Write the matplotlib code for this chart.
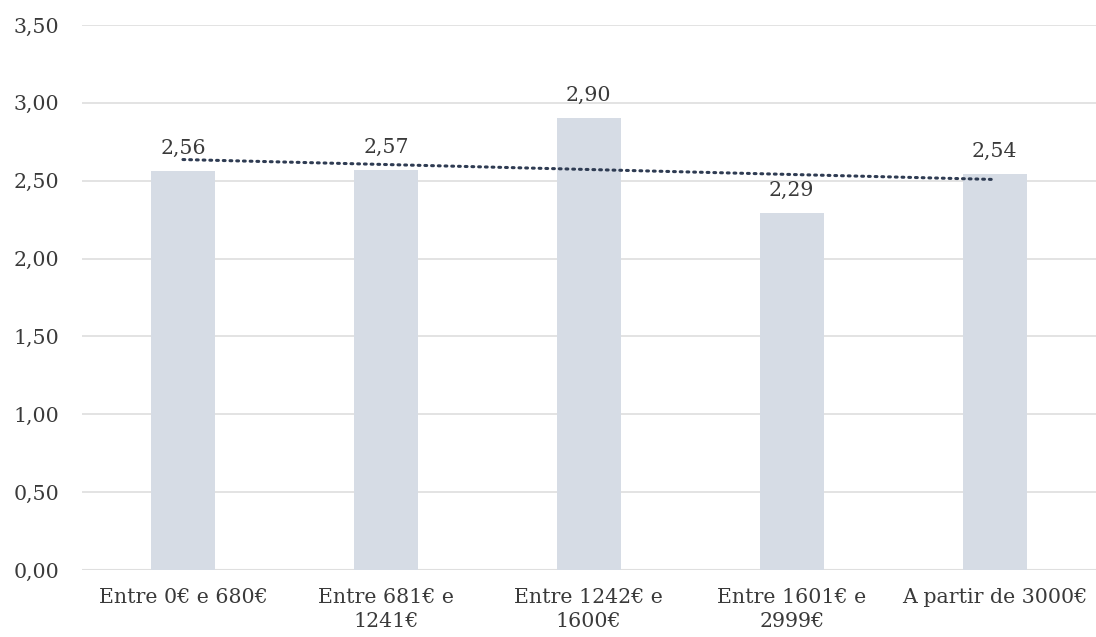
import numpy as np
import matplotlib
matplotlib.use('Agg')
import matplotlib.pyplot as plt

categorias = ['Entre 0€ e 680€', 'Entre 681€ e\n1241€', 'Entre 1242€ e\n1600€',
              'Entre 1601€ e\n2999€', 'A partir de 3000€']
valores = [2.56, 2.57, 2.90, 2.29, 2.54]

plt.rcParams['font.family'] = ['DejaVu Serif']
txt = '#3A3A3A'
fs = 14.8

fig = plt.figure(figsize=(10.96, 6.37), dpi=100)
ax = fig.add_axes([81.5/1096, 1 - 570/637, (1096 - 81.5)/1096, (570 - 25)/637])

x = np.arange(len(valores))
ax.bar(x, valores, width=0.315, color='#D6DCE5', zorder=2)

# linha de tendência linear
coef = np.polyfit(x, valores, 1)
ax.plot(x, np.polyval(coef, x), color='#2E3B52', linestyle=(0, (0.6, 1.6)),
        linewidth=2.2, dash_capstyle='round', zorder=3)

for xi, v in zip(x, valores):
    ax.annotate(f'{v:.2f}'.replace('.', ','), (xi, v), xytext=(0, 12.5),
                textcoords='offset points', ha='center', va='baseline',
                fontsize=fs, color=txt, zorder=4)

ax.set_xlim(-0.5, len(valores) - 0.5)
ax.set_ylim(0, 3.5)
ax.set_yticks(np.arange(0, 3.51, 0.5))
ax.set_yticklabels([f'{t:.2f}'.replace('.', ',') for t in np.arange(0, 3.51, 0.5)])
ax.set_xticks(x)
ax.set_xticklabels(categorias, linespacing=1.3)
ax.tick_params(axis='both', length=0, labelsize=fs, colors=txt)
ax.tick_params(axis='y', pad=16)
ax.tick_params(axis='x', pad=13)
ax.grid(axis='y', color='#E0E0E0', linewidth=1.3, zorder=0)
for s in ax.spines.values():
    s.set_visible(False)
ax.axhline(0, color='#D9D9D9', linewidth=1.5, zorder=1)

plt.savefig('out.png', dpi=100)
